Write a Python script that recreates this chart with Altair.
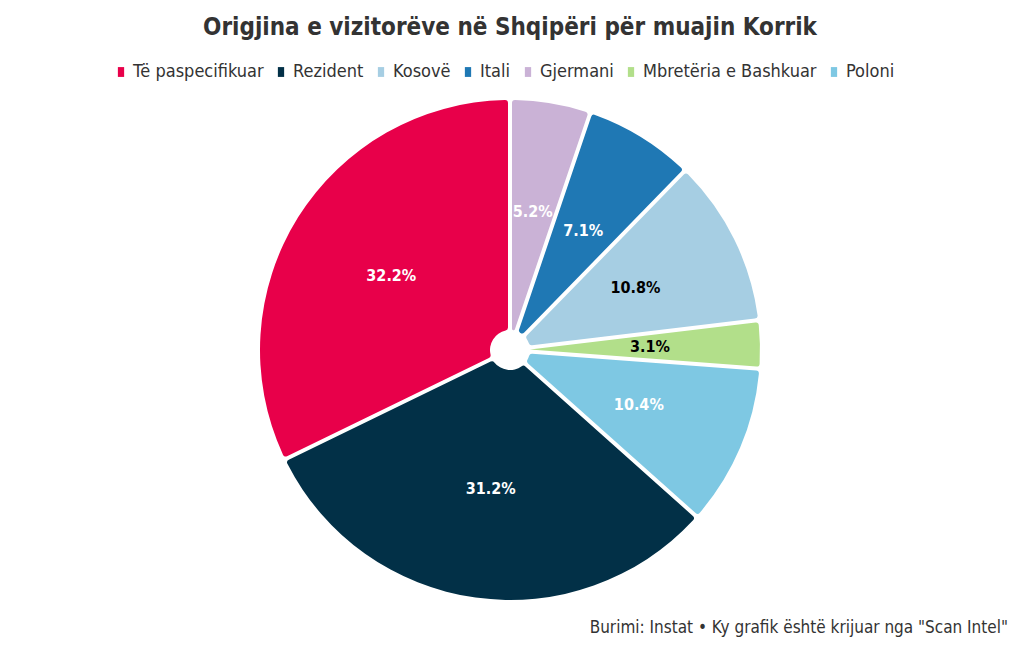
import altair as alt
import pandas as pd

categories = ["Gjermani", "Itali", "Kosovë", "Mbretëria e Bashkuar", "Poloni", "Rezident", "Të paspecifikuar"]
values = [5.2, 7.1, 10.8, 3.1, 10.4, 31.2, 32.2]
label_colors = ["white", "white", "black", "black", "white", "white", "white"]
legend_order = ["Të paspecifikuar", "Rezident", "Kosovë", "Itali", "Gjermani", "Mbretëria e Bashkuar", "Poloni"]
legend_colors = ["#e8004a", "#023047", "#a6cee3", "#1f78b4", "#cab2d6", "#b2df8a", "#7ec8e3"]

title_text = "Origjina e vizitorëve në Shqipëri për muajin Korrik"
source_text = 'Burimi: Instat • Ky grafik është krijuar nga "Scan Intel"'

FONT = "DejaVu Sans Condensed, Liberation Sans Narrow, sans-serif"

df = pd.DataFrame({
    "category": categories,
    "value": values,
    "order": list(range(len(categories))),
    "tcolor": label_colors,
})

base = alt.Chart(df).encode(
    theta=alt.Theta("value:Q", stack=True),
    order=alt.Order("order:Q"),
)

CX, CY = 510, 300

arcs = base.mark_arc(
    outerRadius=250, innerRadius=20, padAngle=0.016, cornerRadius=3,
    x=CX, y=CY,
).encode(
    color=alt.Color(
        "category:N",
        scale=alt.Scale(domain=legend_order, range=legend_colors),
        legend=alt.Legend(
            title=None, orient="none", direction="horizontal",
            legendX=112, legendY=13,
            labelFont=FONT, labelFontSize=18, labelColor="#333333",
            symbolType="M-0.35,-0.55H0.35V0.55H-0.35Z", symbolSize=320,
            symbolStrokeWidth=0, columnPadding=8, labelOffset=3,
            labelLimit=300,
        ),
    ),
)

labels = base.mark_text(
    radius=140, x=CX, y=CY, font=FONT, fontSize=16, fontWeight="bold",
).encode(
    text=alt.Text("lbl:N"),
    color=alt.Color("tcolor:N", scale=None),
).transform_calculate(lbl="format(datum.value, '.1f') + '%'")

source = alt.Chart(pd.DataFrame({"t": [source_text]})).mark_text(
    align="right", baseline="middle", font=FONT, fontSize=17, color="#333333",
).encode(
    x=alt.value(1008), y=alt.value(578), text="t:N",
)

chart = alt.layer(arcs, labels, source).properties(
    width=1020, height=600,
    autosize=alt.AutoSizeParams(type="none"),
    padding={"left": 0, "top": 50, "right": 0, "bottom": 0},
    title=alt.TitleParams(
        text=title_text, anchor="middle", font=FONT, fontSize=24,
        fontWeight="bold", color="#333333", offset=10,
    ),
).configure_view(stroke=None)

chart.save("out.html", embed_options={"renderer": "svg", "actions": False})
